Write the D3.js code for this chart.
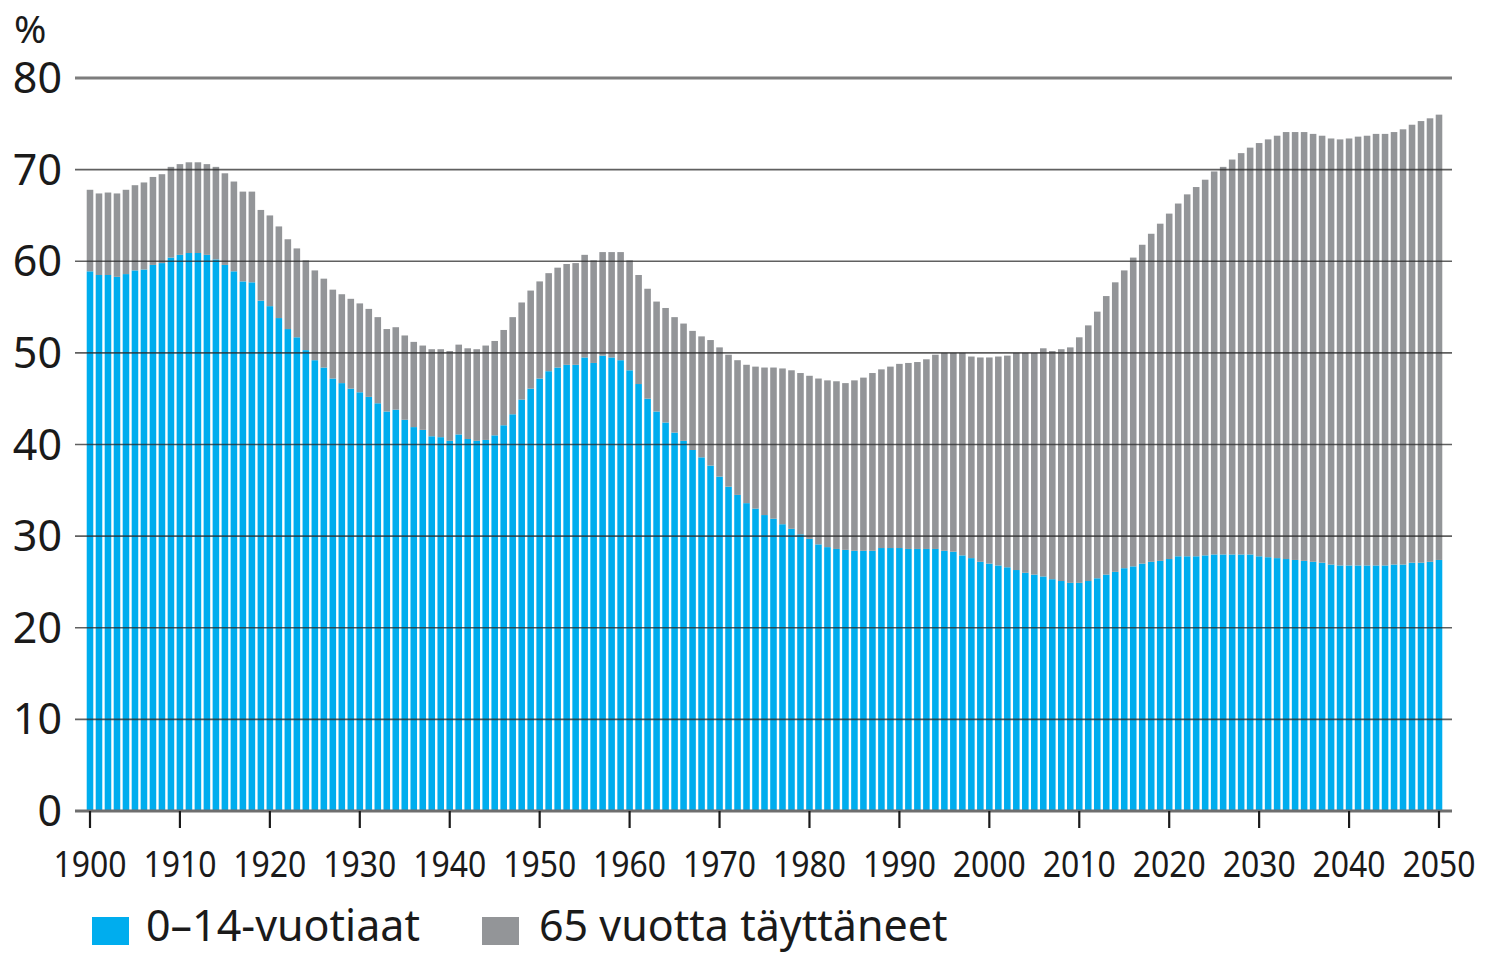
<!DOCTYPE html>
<html><head><meta charset="utf-8">
<script src="https://cdn.jsdelivr.net/npm/d3@7"></script>
<style>
html,body{margin:0;padding:0;background:#fff;}
svg{display:block;font-family:"Noto Sans",sans-serif;}
</style></head>
<body><svg id="c" width="1489" height="954"></svg>
<script>
const years = d3.range(1900, 2051);
const young = [58.9,58.5,58.5,58.3,58.6,59.0,59.1,59.6,59.8,60.4,
60.7,60.9,60.9,60.7,60.2,59.6,58.9,57.8,57.7,55.7,
55.1,53.8,52.6,51.7,50.3,49.2,48.4,47.2,46.7,46.1,
45.7,45.2,44.5,43.6,43.8,42.7,41.9,41.6,40.9,40.8,
40.4,41.1,40.6,40.4,40.5,41.0,42.1,43.3,44.9,46.1,
47.2,48.0,48.4,48.7,48.7,49.5,48.9,49.7,49.5,49.2,
48.1,46.6,45.0,43.6,42.4,41.3,40.4,39.4,38.6,37.7,
36.5,35.4,34.5,33.6,33.0,32.3,31.9,31.3,30.8,30.2,
29.7,29.1,28.8,28.6,28.5,28.4,28.4,28.4,28.7,28.7,
28.7,28.6,28.6,28.6,28.6,28.4,28.3,27.9,27.6,27.2,
27.0,26.8,26.6,26.3,26.0,25.8,25.6,25.3,25.1,24.9,
24.9,25.1,25.4,25.8,26.1,26.5,26.7,27.0,27.2,27.3,
27.5,27.8,27.8,27.8,27.9,28.0,28.0,28.0,28.0,28.0,
27.8,27.7,27.6,27.5,27.4,27.3,27.2,27.1,26.9,26.8,
26.8,26.8,26.8,26.8,26.8,26.9,26.9,27.1,27.1,27.2,
27.4];
const old = [8.9,8.9,9.0,9.1,9.2,9.3,9.5,9.6,9.7,9.9,
9.9,9.9,9.9,9.9,10.1,10.0,9.8,9.8,9.9,9.9,
9.9,10.0,9.8,9.7,9.8,9.8,9.7,9.7,9.7,9.8,
9.7,9.6,9.4,9.0,9.0,9.2,9.3,9.2,9.5,9.6,
9.8,9.8,9.9,10.0,10.3,10.3,10.4,10.6,10.6,10.7,
10.6,10.7,10.9,11.0,11.1,11.2,11.2,11.3,11.5,11.8,
12.0,11.9,12.0,12.0,12.5,12.6,12.8,13.0,13.2,13.7,
14.1,14.4,14.7,15.1,15.5,16.1,16.5,17.0,17.3,17.6,
17.8,18.1,18.2,18.3,18.2,18.6,18.9,19.4,19.5,19.8,
20.1,20.3,20.4,20.7,21.2,21.6,21.7,22.1,22.0,22.3,
22.5,22.8,23.1,23.7,24.0,24.2,24.9,24.9,25.3,25.7,
26.8,27.9,29.1,30.4,31.6,32.5,33.7,34.8,35.8,36.8,
37.7,38.5,39.5,40.3,41.0,41.8,42.3,43.1,43.8,44.4,
45.1,45.6,46.1,46.6,46.7,46.8,46.7,46.6,46.5,46.5,
46.6,46.8,46.9,47.1,47.1,47.2,47.5,47.8,48.2,48.4,
48.6];
const seriesNames = ["0–14-vuotiaat", "65 vuotta täyttäneet"];
const seriesColors = ["#00adee", "#939598"];
const yTicks = [0,10,20,30,40,50,60,70,80];
const xTicks = [1900,1910,1920,1930,1940,1950,1960,1970,1980,1990,2000,2010,2020,2030,2040,2050];

const svg = d3.select("#c");
const x = d3.scaleBand().domain(years).range([85.5, 1443.5]).paddingInner(0.27).paddingOuter(0.135);
const y = d3.scaleLinear().domain([0, 80]).range([811, 78]);

const rows = years.map((yr, i) => ({year: yr, young: young[i], old: old[i]}));
const stack = d3.stack().keys(["young", "old"])(rows);

svg.append("g").selectAll("g").data(stack).join("g")
  .attr("fill", (d, i) => seriesColors[i])
  .selectAll("rect").data(d => d).join("rect")
  .attr("x", d => x(d.data.year))
  .attr("width", x.bandwidth())
  .attr("y", d => y(d[1]))
  .attr("height", d => y(d[0]) - y(d[1]));

// gridlines
const grid = svg.append("g");
grid.selectAll("line").data(yTicks.filter(t => t > 0)).join("line")
  .attr("x1", 75).attr("x2", 1452)
  .attr("y1", d => y(d)).attr("y2", d => y(d))
  .attr("stroke", d => d === 80 ? "#7d7d7d" : "#2b2b2b")
  .attr("stroke-opacity", d => d === 80 ? 1 : 0.75)
  .attr("stroke-width", d => d === 80 ? 3 : 1.6);

// baseline
svg.append("line").attr("x1", 75).attr("x2", 1452).attr("y1", y(0)).attr("y2", y(0))
  .attr("stroke", "#6e6e6e").attr("stroke-width", 3);

// y labels
svg.append("g").selectAll("text").data(yTicks).join("text")
  .attr("x", 62).attr("y", d => y(d) + 15)
  .attr("text-anchor", "end")
  .attr("font-size", 43).attr("fill", "#1a1a1a")
  .text(d => d);

svg.append("text").attr("x", 14).attr("y", 43).attr("font-size", 39).attr("fill", "#1a1a1a").text("%");

// x axis
const xc = yr => x(yr) + x.bandwidth() / 2;
svg.append("g").selectAll("line").data(xTicks).join("line")
  .attr("x1", xc).attr("x2", xc).attr("y1", y(0)).attr("y2", 828)
  .attr("stroke", "#1a1a1a").attr("stroke-width", 2.2);
svg.append("g").selectAll("text").data(xTicks).join("text")
  .attr("x", xc).attr("y", 877)
  .attr("text-anchor", "middle")
  .attr("font-size", 37).attr("fill", "#1a1a1a")
  .attr("textLength", 73).attr("lengthAdjust", "spacingAndGlyphs")
  .text(d => d);

// legend
const legX = [92, 482], legTX = [146, 539];
const leg = svg.append("g");
seriesNames.forEach((n, i) => {
  leg.append("rect").attr("x", legX[i]).attr("y", 917).attr("width", 37).attr("height", 28).attr("fill", seriesColors[i]);
  leg.append("text").attr("x", legTX[i]).attr("y", 941).attr("font-size", 43).attr("fill", "#1a1a1a").text(n);
});
</script></body></html>
